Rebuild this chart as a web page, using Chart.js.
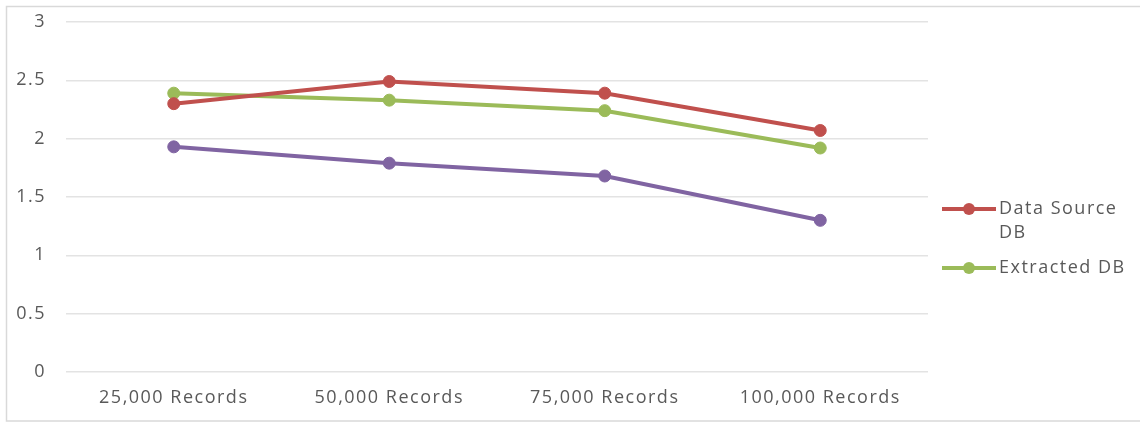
<!DOCTYPE html>
<html>
<head>
<meta charset="utf-8">
<script src="https://cdn.jsdelivr.net/npm/chart.js@4/dist/chart.umd.min.js"></script>
<style>
html,body{margin:0;padding:0;background:#fff;}
#wrap{width:1140px;height:423px;position:relative;}
</style>
</head>
<body>
<div id="wrap"><canvas id="c" width="1140" height="423"></canvas></div>
<script>
const categories = ["25,000 Records", "50,000 Records", "75,000 Records", "100,000 Records"];
const dataSourceDB = [2.30, 2.49, 2.39, 2.07];
const extractedDB = [2.39, 2.33, 2.24, 1.92];
const thirdSeries = [1.93, 1.79, 1.68, 1.30];
const yTicks = [0, 0.5, 1, 1.5, 2, 2.5, 3];
const legendLabels = [["Data Source", "DB"], ["Extracted DB"]];

const FONT = "'Open Sans', sans-serif";
const TXT = "#595959";
const SPACING = '1.5px';

const spacing = {
  id: 'spacing',
  beforeLayout(chart) { chart.ctx.letterSpacing = SPACING; },
  beforeDraw(chart) { chart.ctx.letterSpacing = SPACING; }
};

const frame = {
  id: 'frame',
  beforeDraw(chart) {
    const ctx = chart.ctx;
    ctx.save();
    ctx.strokeStyle = '#d9d9d9';
    ctx.lineWidth = 1.5;
    ctx.beginPath();
    ctx.moveTo(1140, 6.5);
    ctx.lineTo(6.5, 6.5);
    ctx.lineTo(6.5, 421);
    ctx.lineTo(1140, 421);
    ctx.stroke();
    ctx.restore();
  }
};

const customLegend = {
  id: 'customLegend',
  afterDraw(chart) {
    const ctx = chart.ctx;
    ctx.save();
    ctx.font = "18px " + FONT;
    ctx.textBaseline = 'middle';
    const rows = [209, 268];
    legendLabels.forEach((lines, i) => {
      const ds = chart.data.datasets[i];
      const y = rows[i];
      ctx.strokeStyle = ds.borderColor;
      ctx.lineWidth = 4;
      ctx.beginPath();
      ctx.moveTo(942, y);
      ctx.lineTo(996, y);
      ctx.stroke();
      ctx.fillStyle = ds.borderColor;
      ctx.beginPath();
      ctx.arc(969, y, 6, 0, Math.PI * 2);
      ctx.fill();
      ctx.fillStyle = TXT;
      lines.forEach((t, k) => ctx.fillText(t, 999, y + k * 24));
    });
    ctx.restore();
  }
};

new Chart(document.getElementById('c'), {
  type: 'line',
  data: {
    labels: categories,
    datasets: [
      { label: 'Data Source DB', data: dataSourceDB, borderColor: '#c0504d', backgroundColor: '#c0504d' },
      { label: 'Extracted DB', data: extractedDB, borderColor: '#9bbb59', backgroundColor: '#9bbb59' },
      { label: '', data: thirdSeries, borderColor: '#8064a2', backgroundColor: '#8064a2' }
    ].map(d => Object.assign(d, { borderWidth: 4, pointRadius: 6, pointHoverRadius: 6, pointBorderWidth: 1, tension: 0, fill: false }))
  },
  options: {
    responsive: false,
    animation: false,
    layout: { padding: { left: 0, right: 212, top: 22, bottom: 0 } },
    plugins: { legend: { display: false }, tooltip: { enabled: false } },
    scales: {
      x: {
        offset: true,
        grid: { display: false, drawTicks: false },
        border: { display: false },
        ticks: { color: TXT, font: { family: FONT, size: 18 }, padding: 15, maxRotation: 0 },
        afterFit(s) { s.height = 51; s.paddingLeft = 0; s.paddingRight = 0; }
      },
      y: {
        min: 0, max: 3,
        afterBuildTicks(s) { s.ticks = yTicks.map(v => ({ value: v })); },
        grid: { color: '#e3e3e3', lineWidth: 1.5, drawTicks: false },
        border: { display: false },
        ticks: { color: TXT, font: { family: FONT, size: 18 }, padding: 20, callback: v => String(v) },
        afterFit(s) { s.width = 66; s.paddingTop = 0; s.paddingBottom = 0; }
      }
    }
  },
  plugins: [spacing, frame, customLegend]
});
</script>
</body>
</html>
